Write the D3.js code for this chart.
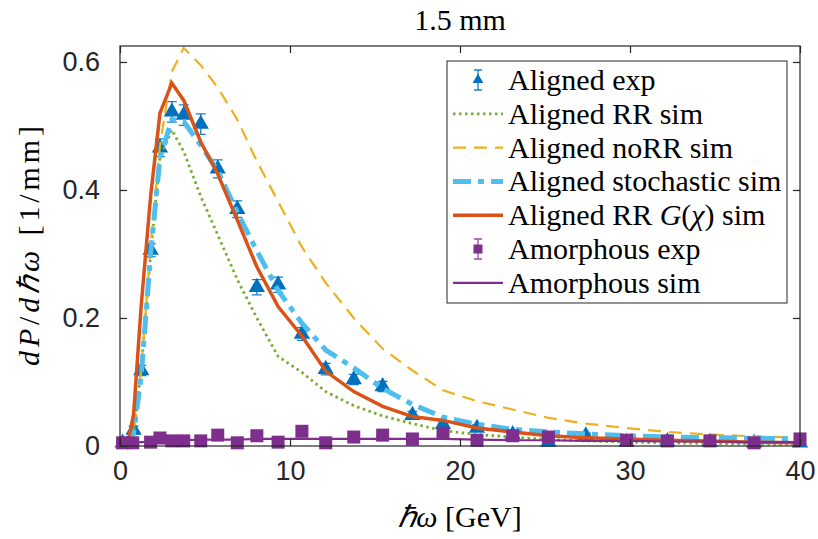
<!DOCTYPE html>
<html>
<head>
<meta charset="utf-8">
<script src="https://cdn.jsdelivr.net/npm/d3@7"></script>
<style>
  body { margin: 0; background: #fff; }
  svg { display: block; }
</style>
</head>
<body>
<div id="chart"></div>
<script>
// Aligned crystal, experiment
var alignedX = [0.15, 0.8, 1.25, 1.8, 2.35, 3.05, 3.75, 4.75, 5.75, 6.9, 8.05, 9.3, 10.7, 12.1, 13.75, 15.45, 17.2, 19.0, 21.0, 23.1, 25.2, 27.4, 29.8, 32.2, 34.7, 37.3, 40];
var alignedExp = [0.005, 0.025, 0.118, 0.306, 0.466, 0.522, 0.517, 0.503, 0.433, 0.370, 0.248, 0.252, 0.175, 0.120, 0.104, 0.093, 0.048, 0.034, 0.028, 0.018, 0.006, 0.016, 0.006, 0.007, 0.006, 0.005, 0.005];
var alignedErr = [0.003, 0.006, 0.008, 0.010, 0.014, 0.016, 0.016, 0.016, 0.014, 0.013, 0.012, 0.012, 0.010, 0.009, 0.008, 0.008, 0.006, 0.005, 0.005, 0.004, 0.003, 0.004, 0.003, 0.003, 0.003, 0.003, 0.003];

// Amorphous target, experiment
var amorphX = [0.15, 0.75, 1.8, 2.35, 3.05, 3.75, 4.75, 5.75, 6.9, 8.05, 9.3, 10.7, 12.1, 13.75, 15.45, 17.2, 19.0, 21.0, 23.1, 25.2, 29.8, 32.2, 34.7, 37.3, 40];
var amorphExp = [0.005, 0.005, 0.006, 0.0125, 0.008, 0.008, 0.008, 0.017, 0.005, 0.016, 0.006, 0.023, 0.005, 0.014, 0.017, 0.011, 0.020, 0.009, 0.016, 0.014, 0.009, 0.008, 0.008, 0.005, 0.011];
var amorphErr = [0.002, 0.002, 0.002, 0.003, 0.002, 0.002, 0.002, 0.003, 0.002, 0.003, 0.002, 0.003, 0.002, 0.003, 0.003, 0.002, 0.003, 0.002, 0.003, 0.003, 0.002, 0.002, 0.002, 0.002, 0.002];

// Simulations
var simX = [0.45, 0.8, 1.25, 1.8, 2.35, 3.05, 3.75, 4.75, 5.75, 6.9, 8.05, 9.3, 10.7, 12.1, 13.75, 15.45, 17.2, 19.0, 21.0, 23.1, 25.2, 27.4, 29.8, 32.2, 34.7, 37.3, 40];
var rrSim = [0, 0.02, 0.12, 0.30, 0.45, 0.494, 0.46, 0.39, 0.33, 0.26, 0.20, 0.14, 0.115, 0.085, 0.063, 0.047, 0.035, 0.024, 0.018, 0.014, 0.010, 0.008, 0.006, 0.005, 0.004, 0.003, 0.003];
var noRRSim = [0, 0.02, 0.12, 0.31, 0.47, 0.585, 0.622, 0.595, 0.56, 0.51, 0.445, 0.382, 0.311, 0.255, 0.20, 0.152, 0.118, 0.087, 0.070, 0.057, 0.044, 0.035, 0.028, 0.022, 0.018, 0.015, 0.013];
var stochSim = [0, 0.02, 0.11, 0.30, 0.45, 0.51, 0.507, 0.47, 0.43, 0.365, 0.305, 0.243, 0.192, 0.150, 0.122, 0.090, 0.065, 0.045, 0.034, 0.026, 0.022, 0.019, 0.016, 0.014, 0.013, 0.012, 0.011];
var gChiSim = [0.003, 0.05, 0.22, 0.39, 0.52, 0.567, 0.54, 0.475, 0.425, 0.353, 0.28, 0.218, 0.172, 0.117, 0.085, 0.062, 0.046, 0.040, 0.028, 0.022, 0.016, 0.013, 0.011, 0.009, 0.008, 0.006, 0.005];
var amorphSim = [0.003, 0.005, 0.006, 0.007, 0.008, 0.009, 0.009, 0.010, 0.010, 0.010, 0.011, 0.011, 0.011, 0.011, 0.011, 0.011, 0.011, 0.011, 0.010, 0.009, 0.009, 0.008, 0.008, 0.007, 0.007, 0.006, 0.006];

var xTicks = [0, 10, 20, 30, 40];
var yTicks = [0, 0.2, 0.4, 0.6];

var W = 818, H = 539;
var margin = { top: 46, right: 18, bottom: 93, left: 120 },
  width = W - margin.left - margin.right,
  height = H - margin.top - margin.bottom;

var axisColor = "#262626";
var tickFont = "'Liberation Sans', Arial, sans-serif";
var texFont = "'Liberation Serif', 'Times New Roman', serif";

var svg = d3
  .select("#chart")
  .append("svg")
  .attr("width", W)
  .attr("height", H);

var g = svg
  .append("g")
  .attr("transform", "translate(" + margin.left + "," + margin.top + ")");

var x = d3.scaleLinear().domain([0, 40]).range([0, width]);
var y = d3.scaleLinear().domain([0, 0.625]).range([height, 0]);

// clip to plot box
svg
  .append("defs")
  .append("clipPath")
  .attr("id", "plotclip")
  .append("rect")
  .attr("x", -8)
  .attr("y", 0)
  .attr("width", width + 16)
  .attr("height", height + 8);

var plot = g.append("g").attr("clip-path", "url(#plotclip)");

function pairs(xs, ys) {
  return xs.map((v, i) => [v, ys[i]]);
}

var line = d3
  .line()
  .x((d) => x(d[0]))
  .y((d) => y(d[1]));

var series = [
  { name: "Aligned RR sim", data: rrSim, color: "#77AC30", w: 2.8, dash: "2.5,3.5" },
  { name: "Aligned noRR sim", data: noRRSim, color: "#EDB120", w: 2.2, dash: "13,8" },
  { name: "Aligned stochastic sim", data: stochSim, color: "#4DBEEE", w: 5, dash: "18,7,6,7" },
  { name: "Aligned RR G(χ) sim", data: gChiSim, color: "#D95319", w: 3.5, dash: null },
];

// Aligned exp: error bars + triangles
var alignedPts = alignedX.map((v, i) => ({ x: v, y: alignedExp[i], e: alignedErr[i] }));
var amorphPts = amorphX.map((v, i) => ({ x: v, y: amorphExp[i], e: amorphErr[i] }));

function errorBars(sel, pts, color, cap) {
  var eb = sel.append("g").attr("stroke", color).attr("stroke-width", 1.3).attr("fill", "none");
  eb.selectAll("path")
    .data(pts)
    .join("path")
    .attr("d", (d) => {
      var cx = x(d.x), y1 = y(d.y - d.e), y2 = y(d.y + d.e);
      return "M" + cx + "," + y1 + "V" + y2 +
        "M" + (cx - cap) + "," + y1 + "H" + (cx + cap) +
        "M" + (cx - cap) + "," + y2 + "H" + (cx + cap);
    });
}

errorBars(plot, alignedPts, "#1A7FCC", 5);
plot
  .append("g")
  .selectAll("path")
  .data(alignedPts)
  .join("path")
  .attr("transform", (d) => "translate(" + x(d.x) + "," + y(d.y) + ")")
  .attr("d", d3.symbol(d3.symbolTriangle, 115))
  .attr("fill", "#0072BD");

series.forEach(function (s) {
  plot
    .append("path")
    .datum(pairs(simX, s.data))
    .attr("d", line)
    .attr("fill", "none")
    .attr("stroke", s.color)
    .attr("stroke-width", s.w)
    .attr("stroke-dasharray", s.dash);
});

errorBars(plot, amorphPts, "#9B4BAA", 5);
plot
  .append("g")
  .selectAll("rect")
  .data(amorphPts)
  .join("rect")
  .attr("x", (d) => x(d.x) - 6.5)
  .attr("y", (d) => y(d.y) - 6.5)
  .attr("width", 13)
  .attr("height", 13)
  .attr("fill", "#7E2F8E");

plot
  .append("path")
  .datum(pairs(simX, amorphSim))
  .attr("d", line)
  .attr("fill", "none")
  .attr("stroke", "#7E2F8E")
  .attr("stroke-width", 2.2);

// axes box with inward ticks on all four sides
g.append("rect")
  .attr("width", width)
  .attr("height", height)
  .attr("fill", "none")
  .attr("stroke", axisColor)
  .attr("stroke-width", 1.2);

var xb = g
  .append("g")
  .attr("transform", "translate(0," + height + ")")
  .call(d3.axisBottom(x).tickValues(xTicks).tickSize(-7).tickPadding(15).tickFormat(d3.format("d")));
var xt = g.append("g").call(d3.axisTop(x).tickValues(xTicks).tickSize(-7).tickFormat(""));
var yl = g
  .append("g")
  .call(d3.axisLeft(y).tickValues(yTicks).tickSize(-7).tickPadding(20).tickFormat((d) => (d === 0 ? "0" : d3.format(".1f")(d))));
var yr = g
  .append("g")
  .attr("transform", "translate(" + width + ",0)")
  .call(d3.axisRight(y).tickValues(yTicks).tickSize(-7).tickFormat(""));

[xb, xt, yl, yr].forEach(function (a) {
  a.select(".domain").remove();
  a.selectAll(".tick line").attr("stroke", axisColor).attr("stroke-width", 1.2);
  a.selectAll(".tick text")
    .attr("fill", axisColor)
    .style("font-family", tickFont)
    .style("font-size", "27px");
});

// title and axis labels
svg
  .append("text")
  .attr("x", margin.left + width / 2)
  .attr("y", 30)
  .attr("text-anchor", "middle")
  .style("font-family", texFont)
  .style("font-size", "30px")
  .attr("fill", "#000")
  .text("1.5 mm");

var xlab = svg
  .append("text")
  .attr("x", margin.left + width / 2)
  .attr("y", 527)
  .attr("text-anchor", "middle")
  .style("font-family", texFont)
  .style("font-size", "30px")
  .attr("fill", "#000");
xlab.append("tspan").style("font-style", "italic").text("ℏω");
xlab.append("tspan").text(" [GeV]");

var ylab = svg
  .append("text")
  .attr("transform", "translate(39," + (margin.top + height / 2) + ") rotate(-90)")
  .attr("text-anchor", "middle")
  .attr("textLength", 240)
  .attr("lengthAdjust", "spacing")
  .style("font-family", texFont)
  .style("font-size", "30px")
  .attr("fill", "#000");
ylab.append("tspan").style("font-style", "italic").text("dP");
ylab.append("tspan").text("/");
ylab.append("tspan").style("font-style", "italic").text("dℏω");
ylab.append("tspan").text(" [1/mm]");

// legend
var legX = 447, legY = 61, legW = 340, legH = 242, rowH = 33.8;
var leg = svg.append("g");
leg
  .append("rect")
  .attr("x", legX)
  .attr("y", legY)
  .attr("width", legW)
  .attr("height", legH)
  .attr("fill", "#fff")
  .attr("stroke", "#262626")
  .attr("stroke-width", 1);

var legItems = [
  { type: "tri", label: ["Aligned exp"] },
  { type: "line", s: series[0], label: ["Aligned RR sim"] },
  { type: "line", s: series[1], label: ["Aligned noRR sim"] },
  { type: "line", s: series[2], label: ["Aligned stochastic sim"] },
  { type: "line", s: series[3], label: ["Aligned RR ", "G", "(", "χ", ") sim"] },
  { type: "sq", label: ["Amorphous exp"] },
  { type: "line", s: { color: "#7E2F8E", w: 2.2, dash: null }, label: ["Amorphous sim"] },
];

legItems.forEach(function (it, i) {
  var cy = legY + 19 + i * rowH;
  var x0 = legX + 6, x1 = legX + 56, cx = (x0 + x1) / 2;
  if (it.type === "line") {
    leg
      .append("line")
      .attr("x1", x0)
      .attr("x2", x1)
      .attr("y1", cy)
      .attr("y2", cy)
      .attr("stroke", it.s.color)
      .attr("stroke-width", it.s.w)
      .attr("stroke-dasharray", it.s.dash);
  } else {
    var c = it.type === "tri" ? "#1A7FCC" : "#9B4BAA";
    leg
      .append("path")
      .attr("d", "M" + cx + "," + (cy - 10) + "V" + (cy + 10) +
        "M" + (cx - 4) + "," + (cy - 10) + "H" + (cx + 4) +
        "M" + (cx - 4) + "," + (cy + 10) + "H" + (cx + 4))
      .attr("stroke", c)
      .attr("stroke-width", 1.3);
    if (it.type === "tri") {
      leg
        .append("path")
        .attr("transform", "translate(" + cx + "," + cy + ")")
        .attr("d", d3.symbol(d3.symbolTriangle, 50))
        .attr("fill", "#0072BD");
    } else {
      leg
        .append("rect")
        .attr("x", cx - 4.5)
        .attr("y", cy - 4.5)
        .attr("width", 9)
        .attr("height", 9)
        .attr("fill", "#7E2F8E");
    }
  }
  var t = leg
    .append("text")
    .attr("x", legX + 61)
    .attr("y", cy + 10)
    .style("font-family", texFont)
    .style("font-size", "30px")
    .attr("fill", "#000");
  it.label.forEach(function (part) {
    t.append("tspan")
      .style("font-style", part === "G" || part === "χ" ? "italic" : "normal")
      .text(part);
  });
});
</script>
</body>
</html>
